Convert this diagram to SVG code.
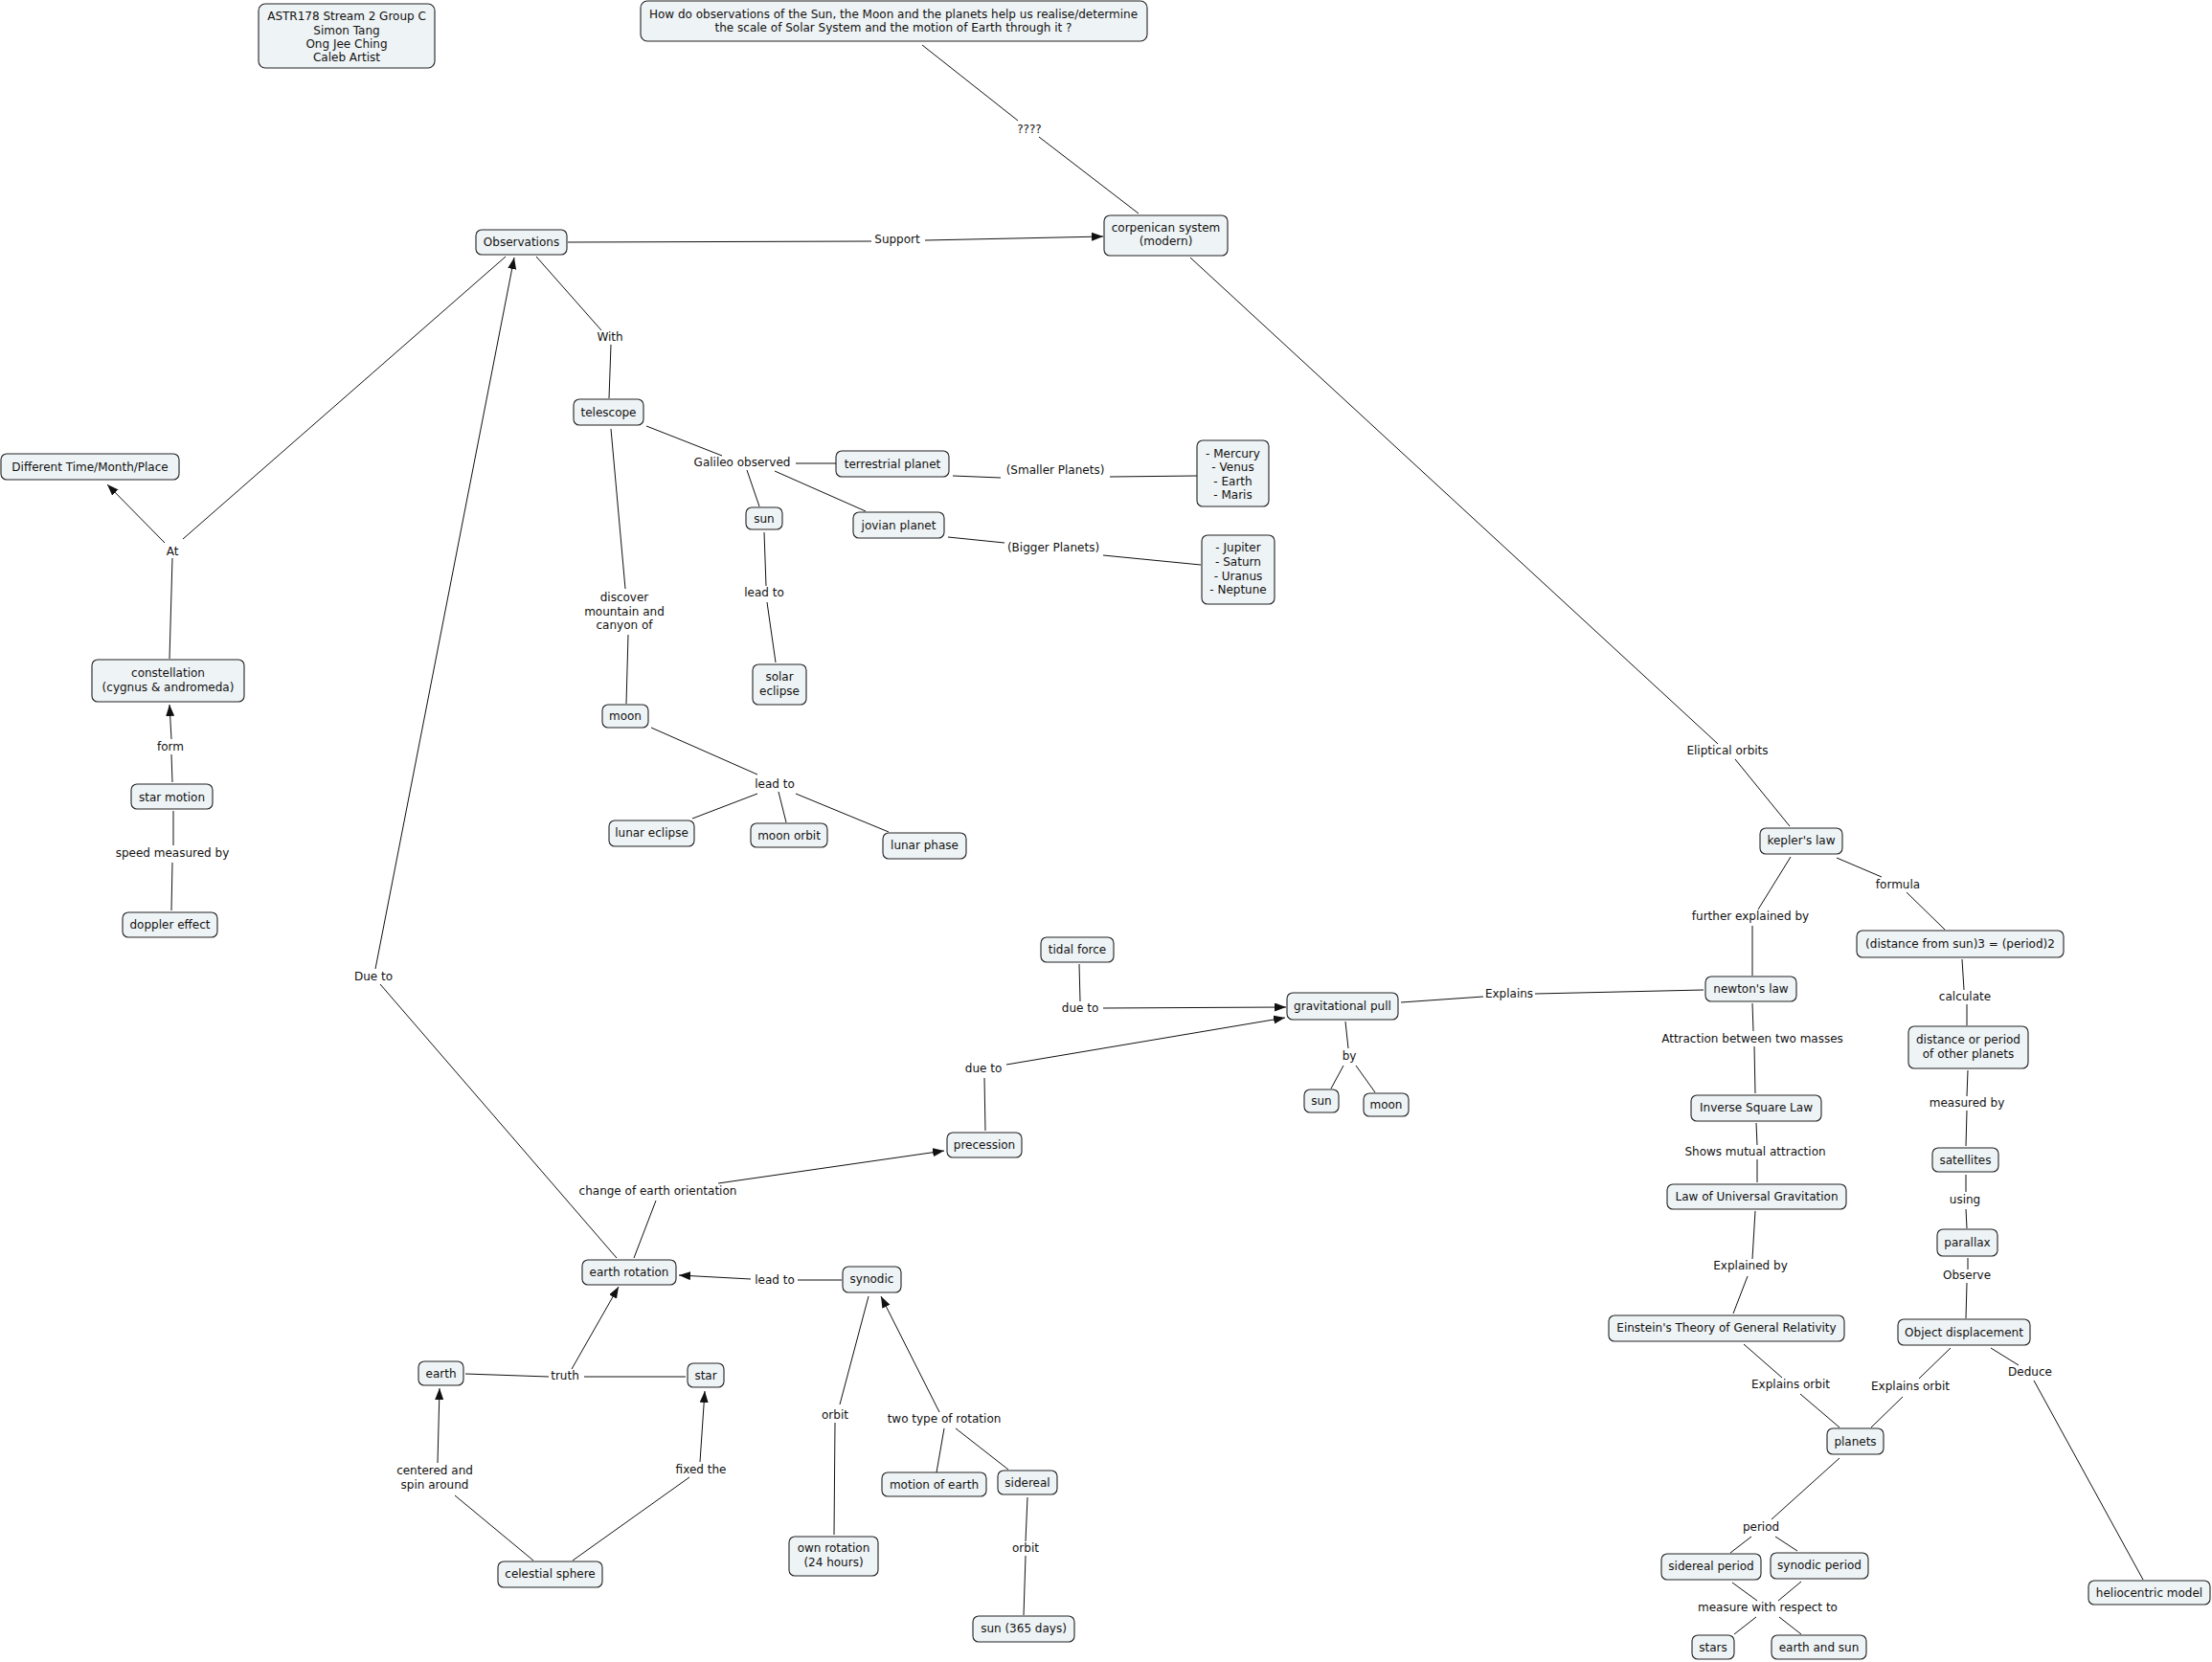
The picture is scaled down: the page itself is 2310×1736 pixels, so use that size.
<svg xmlns="http://www.w3.org/2000/svg" width="2310" height="1736" viewBox="0 0 2310 1736">
<defs>
<style>
.n rect{fill:#eef3f5;stroke:#222;stroke-width:1.1}
text{font-family:"DejaVu Sans",Verdana,sans-serif;font-size:12px;fill:#111;text-anchor:middle}
#connectors line{stroke:#111;stroke-width:1}
#connectors line.a{marker-end:url(#arr)}
</style>
<marker id="arr" markerUnits="userSpaceOnUse" markerWidth="13" markerHeight="10" refX="12" refY="4.5" orient="auto"><path d="M0,0 L12,4.5 L0,9 z" fill="#111"/></marker>
</defs>
<rect width="2310" height="1736" fill="#fff"/>
<g id="connectors">
<line x1="963" y1="47" x2="1063" y2="126"/>
<line x1="1085" y1="143" x2="1189" y2="223"/>
<line x1="593" y1="253" x2="910" y2="252"/>
<line class="a" x1="966" y1="251" x2="1152" y2="247"/>
<line x1="560" y1="268" x2="628" y2="345"/>
<line x1="638" y1="360" x2="636" y2="416"/>
<line class="a" x1="172" y1="567" x2="112" y2="506"/>
<line x1="191" y1="563" x2="528" y2="268"/>
<line x1="177" y1="688" x2="180" y2="583"/>
<line x1="180" y1="817" x2="179" y2="788"/>
<line class="a" x1="179" y1="772" x2="177" y2="736"/>
<line x1="181" y1="847" x2="181" y2="883"/>
<line x1="180" y1="901" x2="179" y2="951"/>
<line x1="675" y1="445" x2="754" y2="476"/>
<line x1="831" y1="484" x2="873" y2="484"/>
<line x1="780" y1="491" x2="793" y2="529"/>
<line x1="809" y1="492" x2="904" y2="534"/>
<line x1="995" y1="497" x2="1045" y2="499"/>
<line x1="1159" y1="498" x2="1250" y2="497"/>
<line x1="990" y1="561" x2="1049" y2="567"/>
<line x1="1152" y1="580" x2="1254" y2="590"/>
<line x1="638" y1="448" x2="653" y2="615"/>
<line x1="656" y1="663" x2="654" y2="735"/>
<line x1="798" y1="556" x2="800" y2="612"/>
<line x1="801" y1="629" x2="810" y2="692"/>
<line x1="680" y1="760" x2="791" y2="809"/>
<line x1="791" y1="829" x2="723" y2="855"/>
<line x1="813" y1="827" x2="821" y2="859"/>
<line x1="831" y1="829" x2="928" y2="869"/>
<line class="a" x1="392" y1="1012" x2="537" y2="269"/>
<line x1="397" y1="1028" x2="644" y2="1314"/>
<line x1="662" y1="1314" x2="685" y2="1254"/>
<line class="a" x1="750" y1="1236" x2="986" y2="1202"/>
<line x1="1029" y1="1181" x2="1028" y2="1126"/>
<line class="a" x1="1051" y1="1112" x2="1342" y2="1063"/>
<line x1="1127" y1="1007" x2="1128" y2="1046"/>
<line class="a" x1="1152" y1="1053" x2="1343" y2="1052"/>
<line x1="1463" y1="1047" x2="1549" y2="1041"/>
<line x1="1603" y1="1038" x2="1779" y2="1034"/>
<line x1="1405" y1="1067" x2="1408" y2="1095"/>
<line x1="1403" y1="1113" x2="1390" y2="1137"/>
<line x1="1416" y1="1113" x2="1436" y2="1141"/>
<line x1="1243" y1="269" x2="1794" y2="777"/>
<line x1="1812" y1="793" x2="1869" y2="863"/>
<line x1="1870" y1="895" x2="1836" y2="950"/>
<line x1="1830" y1="967" x2="1830" y2="1019"/>
<line x1="1918" y1="896" x2="1965" y2="916"/>
<line x1="1991" y1="932" x2="2031" y2="971"/>
<line x1="2049" y1="1002" x2="2051" y2="1034"/>
<line x1="2054" y1="1049" x2="2054" y2="1071"/>
<line x1="1830" y1="1048" x2="1831" y2="1077"/>
<line x1="1832" y1="1093" x2="1833" y2="1142"/>
<line x1="1834" y1="1173" x2="1835" y2="1196"/>
<line x1="1835" y1="1211" x2="1835" y2="1235"/>
<line x1="2055" y1="1118" x2="2054" y2="1145"/>
<line x1="2054" y1="1160" x2="2053" y2="1197"/>
<line x1="2053" y1="1227" x2="2053" y2="1245"/>
<line x1="2053" y1="1263" x2="2054" y2="1283"/>
<line x1="2055" y1="1314" x2="2055" y2="1326"/>
<line x1="2054" y1="1340" x2="2053" y2="1377"/>
<line x1="1833" y1="1265" x2="1830" y2="1315"/>
<line x1="1825" y1="1333" x2="1810" y2="1372"/>
<line x1="1821" y1="1404" x2="1861" y2="1439"/>
<line x1="1880" y1="1456" x2="1921" y2="1491"/>
<line x1="2037" y1="1408" x2="2004" y2="1440"/>
<line x1="1987" y1="1459" x2="1954" y2="1491"/>
<line x1="2079" y1="1408" x2="2108" y2="1426"/>
<line x1="2124" y1="1442" x2="2238" y2="1650"/>
<line x1="1921" y1="1523" x2="1850" y2="1587"/>
<line x1="1829" y1="1605" x2="1807" y2="1622"/>
<line x1="1854" y1="1605" x2="1877" y2="1620"/>
<line x1="1809" y1="1653" x2="1835" y2="1672"/>
<line x1="1881" y1="1652" x2="1857" y2="1672"/>
<line x1="1834" y1="1689" x2="1811" y2="1707"/>
<line x1="1858" y1="1689" x2="1881" y2="1707"/>
<line x1="879" y1="1337" x2="833" y2="1337"/>
<line class="a" x1="784" y1="1336" x2="709" y2="1332"/>
<line class="a" x1="597" y1="1430" x2="646" y2="1344"/>
<line x1="486" y1="1435" x2="573" y2="1438"/>
<line x1="610" y1="1438" x2="716" y2="1438"/>
<line x1="557" y1="1630" x2="475" y2="1562"/>
<line class="a" x1="457" y1="1528" x2="459" y2="1450"/>
<line x1="598" y1="1630" x2="720" y2="1543"/>
<line class="a" x1="731" y1="1527" x2="736" y2="1453"/>
<line x1="907" y1="1354" x2="877" y2="1467"/>
<line x1="872" y1="1486" x2="871" y2="1603"/>
<line class="a" x1="981" y1="1475" x2="920" y2="1354"/>
<line x1="986" y1="1492" x2="978" y2="1538"/>
<line x1="998" y1="1492" x2="1053" y2="1535"/>
<line x1="1073" y1="1564" x2="1071" y2="1610"/>
<line x1="1071" y1="1625" x2="1069" y2="1687"/>
</g>
<g id="labels">
<text x="1075" y="139">????</text>
<text x="937" y="254">Support</text>
<text x="637" y="356">With</text>
<text x="775" y="487">Galileo observed</text>
<text x="1102" y="495">(Smaller Planets)</text>
<text x="1100" y="576">(Bigger Planets)</text>
<text x="180" y="580">At</text>
<text x="178" y="784">form</text>
<text x="180" y="895">speed measured by</text>
<text x="652" y="628">discover</text>
<text x="652" y="643">mountain and</text>
<text x="652" y="657">canyon of</text>
<text x="798" y="623">lead to</text>
<text x="809" y="823">lead to</text>
<text x="1804" y="788">Eliptical orbits</text>
<text x="1982" y="928">formula</text>
<text x="1828" y="961">further explained by</text>
<text x="1128" y="1057">due to</text>
<text x="1576" y="1042">Explains</text>
<text x="2052" y="1045">calculate</text>
<text x="1830" y="1089">Attraction between two masses</text>
<text x="1027" y="1120">due to</text>
<text x="1409" y="1107">by</text>
<text x="2054" y="1156">measured by</text>
<text x="1833" y="1207">Shows mutual attraction</text>
<text x="2052" y="1257">using</text>
<text x="1828" y="1326">Explained by</text>
<text x="2054" y="1336">Observe</text>
<text x="2120" y="1437">Deduce</text>
<text x="1870" y="1450">Explains orbit</text>
<text x="1995" y="1452">Explains orbit</text>
<text x="1839" y="1599">period</text>
<text x="1846" y="1683">measure with respect to</text>
<text x="390" y="1024">Due to</text>
<text x="687" y="1248">change of earth orientation</text>
<text x="809" y="1341">lead to</text>
<text x="590" y="1441">truth</text>
<text x="872" y="1482">orbit</text>
<text x="986" y="1486">two type of rotation</text>
<text x="454" y="1540">centered and</text>
<text x="454" y="1555">spin around</text>
<text x="732" y="1539">fixed the</text>
<text x="1071" y="1621">orbit</text>
</g>
<g id="n-astr" class="n"><rect x="270" y="4" width="184" height="67" rx="7"/><text x="362" y="21">ASTR178 Stream 2 Group C</text><text x="362" y="36">Simon Tang</text><text x="362" y="50">Ong Jee Ching</text><text x="362" y="64">Caleb Artist</text></g>
<g id="n-question" class="n"><rect x="669" y="1" width="529" height="42" rx="7"/><text x="933" y="19">How do observations of the Sun, the Moon and the planets help us realise/determine</text><text x="933" y="33">the scale of Solar System and the motion of Earth through it ?</text></g>
<g id="n-observations" class="n"><rect x="497" y="240" width="95" height="26" rx="6"/><text x="544.5" y="257">Observations</text></g>
<g id="n-corpenican" class="n"><rect x="1153" y="225" width="129" height="42" rx="6"/><text x="1217.5" y="242">corpenican system</text><text x="1217.5" y="256">(modern)</text></g>
<g id="n-telescope" class="n"><rect x="599" y="417" width="73" height="27" rx="6"/><text x="635.5" y="435">telescope</text></g>
<g id="n-terrestrial" class="n"><rect x="873" y="471" width="118" height="27" rx="6"/><text x="932" y="489">terrestrial planet</text></g>
<g id="n-different" class="n"><rect x="1" y="474" width="186" height="27" rx="6"/><text x="94" y="492">Different Time/Month/Place</text></g>
<g id="n-sun1" class="n"><rect x="779" y="530" width="38" height="23" rx="6"/><text x="798" y="546">sun</text></g>
<g id="n-jovian" class="n"><rect x="891" y="535" width="95" height="27" rx="6"/><text x="938.5" y="553">jovian planet</text></g>
<g id="n-mercury" class="n"><rect x="1250" y="460" width="75" height="69" rx="6"/><text x="1287.5" y="478">- Mercury</text><text x="1287.5" y="492">- Venus</text><text x="1287.5" y="507">- Earth</text><text x="1287.5" y="521">- Maris</text></g>
<g id="n-jupiter" class="n"><rect x="1255" y="559" width="76" height="72" rx="6"/><text x="1293" y="576">- Jupiter</text><text x="1293" y="591">- Saturn</text><text x="1293" y="606">- Uranus</text><text x="1293" y="620">- Neptune</text></g>
<g id="n-solar" class="n"><rect x="786" y="694" width="56" height="42" rx="6"/><text x="814" y="711">solar</text><text x="814" y="726">eclipse</text></g>
<g id="n-moon1" class="n"><rect x="629" y="736" width="48" height="24" rx="6"/><text x="653" y="752">moon</text></g>
<g id="n-constellation" class="n"><rect x="96" y="689" width="159" height="44" rx="6"/><text x="175.5" y="707">constellation</text><text x="175.5" y="722">(cygnus &amp; andromeda)</text></g>
<g id="n-starmotion" class="n"><rect x="137" y="819" width="85" height="26" rx="6"/><text x="179.5" y="837">star motion</text></g>
<g id="n-doppler" class="n"><rect x="128" y="953" width="99" height="26" rx="6"/><text x="177.5" y="970">doppler effect</text></g>
<g id="n-lunareclipse" class="n"><rect x="636" y="857" width="89" height="27" rx="6"/><text x="680.5" y="874">lunar eclipse</text></g>
<g id="n-moonorbit" class="n"><rect x="784" y="860" width="80" height="25" rx="6"/><text x="824" y="877">moon orbit</text></g>
<g id="n-lunarphase" class="n"><rect x="922" y="870" width="87" height="27" rx="6"/><text x="965.5" y="887">lunar phase</text></g>
<g id="n-kepler" class="n"><rect x="1838" y="865" width="86" height="27" rx="6"/><text x="1881" y="882">kepler's law</text></g>
<g id="n-formula" class="n"><rect x="1939" y="972" width="216" height="28" rx="6"/><text x="2047" y="990">(distance from sun)3 = (period)2</text></g>
<g id="n-tidal" class="n"><rect x="1087" y="979" width="76" height="26" rx="6"/><text x="1125" y="996">tidal force</text></g>
<g id="n-grav" class="n"><rect x="1344" y="1037" width="116" height="28" rx="6"/><text x="1402" y="1055">gravitational pull</text></g>
<g id="n-newton" class="n"><rect x="1781" y="1020" width="95" height="26" rx="6"/><text x="1828.5" y="1037">newton's law</text></g>
<g id="n-dop" class="n"><rect x="1993" y="1072" width="125" height="44" rx="6"/><text x="2055.5" y="1090">distance or period</text><text x="2055.5" y="1105">of other planets</text></g>
<g id="n-sun2" class="n"><rect x="1362" y="1138" width="36" height="24" rx="6"/><text x="1380" y="1154">sun</text></g>
<g id="n-moon2" class="n"><rect x="1424" y="1142" width="47" height="24" rx="6"/><text x="1447.5" y="1158">moon</text></g>
<g id="n-inverse" class="n"><rect x="1766" y="1144" width="136" height="27" rx="6"/><text x="1834" y="1161">Inverse Square Law</text></g>
<g id="n-precession" class="n"><rect x="989" y="1183" width="78" height="26" rx="6"/><text x="1028" y="1200">precession</text></g>
<g id="n-satellites" class="n"><rect x="2018" y="1199" width="69" height="25" rx="6"/><text x="2052.5" y="1216">satellites</text></g>
<g id="n-lug" class="n"><rect x="1741" y="1237" width="187" height="26" rx="6"/><text x="1834.5" y="1254">Law of Universal Gravitation</text></g>
<g id="n-parallax" class="n"><rect x="2023" y="1284" width="63" height="28" rx="6"/><text x="2054.5" y="1302">parallax</text></g>
<g id="n-einstein" class="n"><rect x="1680" y="1374" width="246" height="27" rx="6"/><text x="1803" y="1391">Einstein's Theory of General Relativity</text></g>
<g id="n-od" class="n"><rect x="1982" y="1378" width="138" height="27" rx="6"/><text x="2051" y="1396">Object displacement</text></g>
<g id="n-planets" class="n"><rect x="1908" y="1492" width="59" height="27" rx="6"/><text x="1937.5" y="1510">planets</text></g>
<g id="n-siderealperiod" class="n"><rect x="1735" y="1623" width="104" height="27" rx="6"/><text x="1787" y="1640">sidereal period</text></g>
<g id="n-synodicperiod" class="n"><rect x="1849" y="1622" width="102" height="27" rx="6"/><text x="1900" y="1639">synodic period</text></g>
<g id="n-stars" class="n"><rect x="1767" y="1708" width="44" height="25" rx="6"/><text x="1789" y="1725">stars</text></g>
<g id="n-earthsun" class="n"><rect x="1850" y="1708" width="99" height="25" rx="6"/><text x="1899.5" y="1725">earth and sun</text></g>
<g id="n-helio" class="n"><rect x="2181" y="1651" width="127" height="25" rx="6"/><text x="2244.5" y="1668">heliocentric model</text></g>
<g id="n-earthrotation" class="n"><rect x="608" y="1316" width="98" height="26" rx="6"/><text x="657" y="1333">earth rotation</text></g>
<g id="n-synodic" class="n"><rect x="880" y="1323" width="61" height="27" rx="6"/><text x="910.5" y="1340">synodic</text></g>
<g id="n-earth" class="n"><rect x="437" y="1422" width="47" height="25" rx="6"/><text x="460.5" y="1439">earth</text></g>
<g id="n-star" class="n"><rect x="718" y="1424" width="38" height="25" rx="6"/><text x="737" y="1441">star</text></g>
<g id="n-motionofearth" class="n"><rect x="921" y="1538" width="109" height="25" rx="6"/><text x="975.5" y="1555">motion of earth</text></g>
<g id="n-sidereal" class="n"><rect x="1042" y="1536" width="62" height="25" rx="6"/><text x="1073" y="1553">sidereal</text></g>
<g id="n-ownrotation" class="n"><rect x="824" y="1605" width="93" height="41" rx="6"/><text x="870.5" y="1621">own rotation</text><text x="870.5" y="1636">(24 hours)</text></g>
<g id="n-celestial" class="n"><rect x="520" y="1631" width="109" height="27" rx="6"/><text x="574.5" y="1648">celestial sphere</text></g>
<g id="n-sun365" class="n"><rect x="1016" y="1688" width="106" height="27" rx="6"/><text x="1069" y="1705">sun (365 days)</text></g>
</svg>
